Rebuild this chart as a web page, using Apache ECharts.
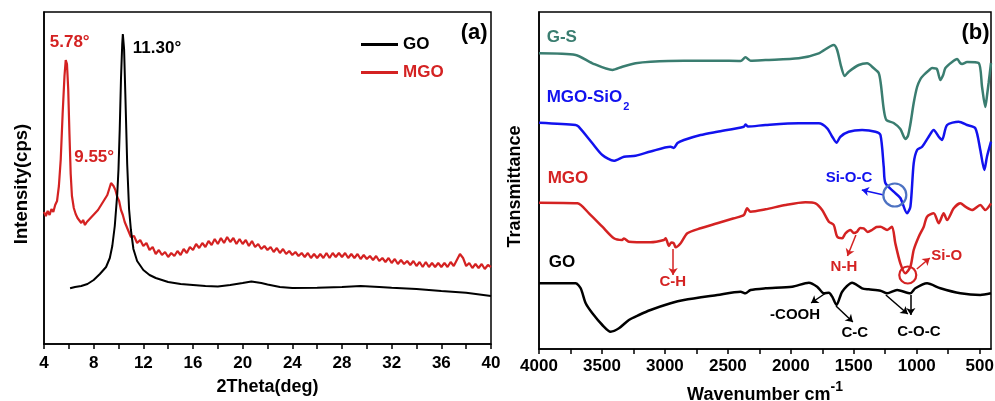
<!DOCTYPE html>
<html><head><meta charset="utf-8">
<script src="https://cdn.jsdelivr.net/npm/echarts@6/dist/echarts.min.js"></script>
<style>html,body{margin:0;padding:0;background:#fff}#c{width:995px;height:401px}</style>
</head><body><div id="c"></div>
<script>
// ---------- Panel (a) XRD ----------
const xrdTicks = [4, 8, 12, 16, 20, 24, 28, 32, 36, 40];
const goTheta = [6.1, 6.5, 7, 7.5, 8, 8.5, 9, 9.3, 9.5, 9.7, 9.9, 10.0, 10.1, 10.2, 10.3, 10.35, 10.45, 10.55, 10.7, 10.85, 11.0, 11.2, 11.5, 12, 12.5, 13, 14, 15, 16, 17, 18, 19, 20, 20.7, 21.5, 22, 23, 24, 26, 28, 29.5, 31, 32, 34, 36, 38, 40];
const goIntensity = [55.7, 57, 58, 60, 64, 70, 77, 86, 98, 118, 150, 175, 215, 265, 300, 310, 295, 250, 180, 135, 114, 95, 83, 74, 69, 66, 62, 60, 59, 58, 57.5, 59, 61, 62.5, 61, 59.5, 57, 56, 56.3, 57, 58, 57, 56.3, 55, 53, 51.3, 48];
const mgoTheta = [4.0, 4.15, 4.3, 4.45, 4.6, 4.75, 4.9, 5.05, 5.2, 5.35, 5.5, 5.65, 5.75, 5.85, 5.95, 6.05, 6.15, 6.25, 6.4, 6.55, 6.7, 6.85, 7.0, 7.15, 7.3, 7.45, 7.6, 7.75, 7.9, 8.05, 8.2, 8.35, 8.5, 8.65, 8.8, 8.95, 9.1, 9.25, 9.4, 9.5, 9.6, 9.75, 9.9, 10.05, 10.2, 10.35, 10.5, 10.6, 10.8, 11.0,
  11.25, 11.5, 11.75, 12.0, 12.25, 12.5, 12.75, 13.0, 13.25, 13.5, 13.75, 14.0, 14.25, 14.5, 14.75, 15.0, 15.25, 15.5, 15.75, 16.0, 16.25, 16.5, 16.75, 17.0, 17.25, 17.5, 17.75, 18.0, 18.25, 18.5, 18.75, 19.0, 19.25, 19.5, 19.75, 20.0, 20.25, 20.5, 20.75, 21.0, 21.25, 21.5, 21.75, 22.0, 22.25, 22.5, 22.75, 23.0, 23.25, 23.5, 23.75, 24.0, 24.25, 24.5, 24.75, 25.0, 25.25, 25.5, 25.75, 26.0, 26.25, 26.5, 26.75, 27.0, 27.25, 27.5, 27.75, 28.0, 28.25, 28.5, 28.75, 29.0, 29.25, 29.5, 29.75, 30.0, 30.25, 30.5, 30.75, 31.0, 31.25, 31.5, 31.75, 32.0, 32.25, 32.5, 32.75, 33.0, 33.25, 33.5, 33.75, 34.0, 34.25, 34.5, 34.75, 35.0, 35.25, 35.5, 35.75, 36.0, 36.25, 36.5, 36.75, 37.0, 37.25, 37.5, 37.6, 37.75, 38.0, 38.25, 38.5, 38.75, 39.0, 39.25, 39.5, 39.75, 40.0];
const mgoIntensity = [132, 128, 133, 129, 135, 132, 139, 143, 158, 185, 230, 268, 284, 280, 255, 210, 170, 148, 136, 130, 126, 124, 121, 124, 119, 122, 121, 126, 124, 130, 128, 134, 133, 140, 139, 146, 149, 155, 161, 163, 158, 154, 147, 143, 134, 129, 122, 119, 113, 107,
  108, 101, 104, 98, 101, 94, 97, 90, 94, 89, 92, 87, 91, 88, 93, 89, 95, 91, 97, 94, 100, 96, 101, 97, 103, 99, 105, 100, 106, 101, 107, 102, 106, 100, 105, 100, 104, 98, 103, 97, 100, 95, 98, 94, 97, 92, 96, 91, 95, 90, 93, 89, 92, 88, 91, 87, 91, 86, 90, 86, 90, 86, 91, 86, 91, 87, 91, 87, 91, 86, 90, 86, 90, 85, 89, 85, 88, 84, 88, 83, 86, 82, 86, 81, 85, 80, 84, 80, 83, 79, 83, 78, 82, 77, 82, 77, 81, 77, 81, 77, 81, 77, 82, 78, 84, 90, 92, 86, 78, 81, 76, 80, 76, 80, 75, 79, 77];

// ---------- Panel (b) FTIR ----------
const ftirLabelTicks = [4000, 3500, 3000, 2500, 2000, 1500, 1000, 500];
const ftirAllTicks = [4000, 3750, 3500, 3250, 3000, 2750, 2500, 2250, 2000, 1750, 1500, 1250, 1000, 750, 500];
const gsWave = [4000, 3709, 3576, 3417, 3338, 3233, 3114, 2849, 2584, 2399, 2360, 2320, 2201, 1937, 1778, 1659, 1632, 1600, 1572, 1540, 1460, 1394, 1341, 1302, 1285, 1262, 1241, 1183, 1130, 1090, 1070, 1050, 1024, 997, 970, 944, 900, 878, 840, 812, 790, 772, 719, 679, 655, 640, 600, 508, 481, 455, 440, 429, 410];
const gsT = [295.7, 294, 285.7, 279, 282.3, 285.7, 287.3, 288.3, 288.3, 288, 291.7, 288.3, 289, 290.7, 295.7, 304, 299, 282.3, 273, 277.3, 284, 285.7, 280.7, 276, 265, 240, 229, 226, 220, 210, 213, 225, 246, 262, 270, 274, 279, 281, 280, 269, 274, 281, 287, 290, 286, 285, 287, 286, 262, 242, 255, 266, 286];
const msWave = [4000, 3709, 3685, 3576, 3497, 3405, 3325, 3233, 3114, 2955, 2929, 2900, 2849, 2717, 2584, 2373, 2360, 2340, 2201, 1937, 1778, 1711, 1671, 1637, 1606, 1540, 1434, 1328, 1288, 1262, 1249, 1183, 1130, 1077, 1050, 1024, 997, 957, 905, 865, 825, 799, 759, 667, 600, 534, 495, 463, 442, 410];
const msT = [226.3, 224, 222.3, 205.7, 194, 188.3, 192.3, 193.3, 197.5, 202.3, 201, 206, 209, 214, 217.3, 222.3, 224.5, 222.5, 224, 225.7, 225.7, 220.7, 212.3, 206.3, 212.3, 217.3, 219, 217.3, 214, 182.3, 166, 157.3, 151, 135.7, 142.3, 185.7, 199, 202.3, 212.3, 219, 212.3, 209, 224, 227.3, 224, 220.7, 199, 179, 192.3, 207.3];
const mgoWave = [4000, 3695, 3603, 3497, 3405, 3340, 3325, 3286, 3114, 3008, 2994, 2968, 2950, 2929, 2915, 2875, 2822, 2717, 2584, 2452, 2373, 2347, 2320, 2201, 2042, 1884, 1804, 1751, 1698, 1659, 1632, 1592, 1566, 1526, 1500, 1474, 1450, 1421, 1390, 1355, 1320, 1288, 1235, 1196, 1170, 1130, 1090, 1050, 1024, 984, 944, 918, 865, 825, 786, 759, 706, 653, 614, 561, 495, 455, 410];
const mgoT = [146.3, 145.7, 135.7, 122.3, 110.7, 109, 110.5, 107.3, 106.7, 109, 110.7, 103, 106.5, 105.7, 101.7, 105.7, 115.7, 120.7, 125.7, 130.7, 134, 140.7, 137.3, 139.7, 144, 146.7, 145.7, 139, 127.3, 124, 112.3, 110.7, 115.7, 119, 116, 117.3, 121, 120.7, 117, 119, 122, 122.3, 119, 122.3, 105.7, 85.7, 75.7, 82.3, 99, 112.3, 122.3, 132.3, 135.7, 125.7, 135.7, 129, 140.7, 145.7, 142.3, 139, 144, 139, 145.7];
const goWave = [4000, 3709, 3669, 3629, 3576, 3497, 3431, 3365, 3286, 3206, 3114, 2955, 2849, 2584, 2399, 2360, 2320, 2201, 1989, 1857, 1791, 1738, 1698, 1671, 1637, 1592, 1513, 1434, 1381, 1288, 1235, 1156, 1050, 1011, 918, 812, 653, 495, 410];
const goT = [65.7, 65.7, 60.7, 45.7, 35.7, 24, 17.3, 20.7, 29, 34, 39, 45.7, 49, 54, 57.3, 55.7, 59, 60.7, 62.3, 66.3, 62.3, 55.7, 56.3, 52.3, 44, 57.3, 66.3, 60.7, 59.7, 58.3, 55.7, 59, 55.7, 60.7, 65.7, 60.7, 55.7, 54, 55.7];

const RED = '#d42222', BLUE = '#1212ee', TEAL = '#3a7d70', CBLUE = '#4d72c2';
const F = "'Liberation Sans', Arial, sans-serif";
const zip = (a, b) => a.map((v, i) => [v, b[i]]);
const tstyle = {color: '#000', fontSize: 17, fontWeight: 'bold', fontFamily: F};
const title = {color: '#000', fontSize: 18, fontWeight: 'bold', fontFamily: F};
const plain = v => String(v);

const chart = echarts.init(document.getElementById('c'));
const arrow = (color, pairs) => ({
  silent: true, symbol: ['none', 'arrow'], symbolSize: 7,
  lineStyle: {color: color, width: 1.5, type: 'solid'}, label: {show: false},
  emphasis: {disabled: true},
  data: pairs.map(p => [{coord: p[0]}, {coord: p[1]}])
});
const ring = (color, size, c) => ({
  silent: true, symbol: 'circle', symbolSize: size,
  itemStyle: {color: 'rgba(0,0,0,0)', borderColor: color, borderWidth: 2.2},
  label: {show: false}, data: [{coord: c}]
});

chart.setOption({
  backgroundColor: '#fff',
  animation: false,
  grid: [
    {left: 44, top: 12, width: 447, height: 332, show: true, borderColor: '#000', borderWidth: 1.5, backgroundColor: 'transparent', containLabel: false, outerBoundsMode: 'none'},
    {left: 539, top: 12, width: 452, height: 337, show: true, borderColor: '#000', borderWidth: 1.5, backgroundColor: 'transparent', containLabel: false, outerBoundsMode: 'none'}
  ],
  legend: {
    left: 356, top: 31, orient: 'vertical', icon: 'rect', itemWidth: 37, itemHeight: 3, itemGap: 11,
    textStyle: {fontSize: 17, fontWeight: 'bold', fontFamily: F},
    data: [{name: 'GO', textStyle: {color: '#000'}}, {name: 'MGO', textStyle: {color: RED}}]
  },
  xAxis: [
    {gridIndex: 0, type: 'value', min: 4, max: 40, interval: 4,
     axisLine: {lineStyle: {color: '#000', width: 1.5}},
     axisTick: {length: 5, lineStyle: {color: '#000', width: 1.5}},
     minorTick: {show: true, splitNumber: 2, length: 5, lineStyle: {color: '#000', width: 1.5}},
     splitLine: {show: false}, minorSplitLine: {show: false},
     axisLabel: Object.assign({margin: 11, customValues: xrdTicks, formatter: plain}, tstyle),
     name: '2Theta(deg)', nameLocation: 'middle', nameGap: 34, nameTextStyle: title},
    {gridIndex: 1, type: 'value', min: 410, max: 4000, inverse: true,
     axisLine: {lineStyle: {color: '#000', width: 1.5}},
     axisTick: {length: 5, customValues: ftirAllTicks, lineStyle: {color: '#000', width: 1.5}},
     splitLine: {show: false},
     axisLabel: Object.assign({margin: 9, customValues: ftirLabelTicks, formatter: plain}, tstyle),
     name: '{a|Wavenumber cm}{s|-1}', nameLocation: 'middle', nameGap: 27,
     nameTextStyle: {rich: {
       a: {fontSize: 18, fontWeight: 'bold', fontFamily: F, color: '#000', lineHeight: 24, verticalAlign: 'bottom'},
       s: {fontSize: 14, fontWeight: 'bold', fontFamily: F, color: '#000', lineHeight: 14, verticalAlign: 'top'}}}}
  ],
  yAxis: [
    {gridIndex: 0, type: 'value', min: 0, max: 332, axisLine: {show: true, lineStyle: {color: '#000', width: 1.5}},
     axisTick: {show: false}, axisLabel: {show: false}, splitLine: {show: false},
     name: 'Intensity(cps)', nameLocation: 'middle', nameGap: 13,
     nameTextStyle: Object.assign({fontSize: 18.5, padding: [0, 12, 0, 0]}, {color: '#000', fontWeight: 'bold', fontFamily: F})},
    {gridIndex: 1, type: 'value', min: 0, max: 337, axisLine: {show: true, lineStyle: {color: '#000', width: 1.5}},
     axisTick: {show: false}, axisLabel: {show: false}, splitLine: {show: false},
     name: 'Transmittance', nameLocation: 'middle', nameGap: 15,
     nameTextStyle: Object.assign({fontSize: 18, padding: [0, 12, 0, 0]}, {color: '#000', fontWeight: 'bold', fontFamily: F})}
  ],
  series: [
    {name: 'GO', type: 'line', xAxisIndex: 0, yAxisIndex: 0, showSymbol: false, color: '#000',
     lineStyle: {color: '#000', width: 2}, data: zip(goTheta, goIntensity), z: 3},
    {name: 'MGO', type: 'line', xAxisIndex: 0, yAxisIndex: 0, showSymbol: false, color: RED,
     lineStyle: {color: RED, width: 2.2}, data: zip(mgoTheta, mgoIntensity), z: 2},
    {name: 'G-S (FTIR)', type: 'line', xAxisIndex: 1, yAxisIndex: 1, showSymbol: false, smooth: 0.25, color: TEAL,
     lineStyle: {color: TEAL, width: 2.5}, data: zip(gsWave, gsT)},
    {name: 'MGO-SiO2 (FTIR)', type: 'line', xAxisIndex: 1, yAxisIndex: 1, showSymbol: false, smooth: 0.25, color: BLUE,
     lineStyle: {color: BLUE, width: 2.5}, data: zip(msWave, msT),
     markPoint: ring(CBLUE, 23, [1174, 154]),
     markLine: arrow(BLUE, [[[1261, 154], [1436, 159]]])},
    {name: 'MGO (FTIR)', type: 'line', xAxisIndex: 1, yAxisIndex: 1, showSymbol: false, smooth: 0.25, color: RED,
     lineStyle: {color: RED, width: 2.5}, data: zip(mgoWave, mgoT),
     markPoint: ring(RED, 17, [1071, 74]),
     markLine: arrow(RED, [[[2935, 100], [2935, 74]], [[1483, 114], [1550, 93]], [[999, 80], [896, 91]]])},
    {name: 'GO (FTIR)', type: 'line', xAxisIndex: 1, yAxisIndex: 1, showSymbol: false, smooth: 0.25, color: '#000',
     lineStyle: {color: '#000', width: 2.5}, data: zip(goWave, goT),
     markLine: arrow('#000', [[[1722, 56], [1839, 46]], [[1641, 43], [1507, 27]], [[1245, 54], [1071, 35]], [[1047, 54], [1047, 34]]])}
  ]
});

// text annotations positioned through the axes' own scales
const notes = [
  {g: 0, x: 6.07, y: 302, t: '5.78°', c: RED, a: 'center'},
  {g: 0, x: 11.15, y: 296, t: '11.30°', c: '#000', a: 'left'},
  {g: 0, x: 8.04, y: 187, t: '9.55°', c: RED, a: 'center'},
  {g: 0, x: 39.72, y: 311, t: '(a)', c: '#000', a: 'right', s: 22},
  {g: 1, x: 421, y: 316, t: '(b)', c: '#000', a: 'right', s: 22},
  {g: 1, x: 3939, y: 312, t: 'G-S', c: TEAL, a: 'left'},
  {g: 1, x: 3939, y: 250, t: '{m|MGO-SiO}{s|2}', c: BLUE, a: 'left', rich: true},
  {g: 1, x: 3931, y: 171, t: 'MGO', c: RED, a: 'left'},
  {g: 1, x: 3923, y: 87, t: 'GO', c: '#000', a: 'left'},
  {g: 1, x: 2937, y: 67, t: 'C-H', c: RED, a: 'center', s: 15},
  {g: 1, x: 1578, y: 82, t: 'N-H', c: RED, a: 'center', s: 15},
  {g: 1, x: 762, y: 93, t: 'Si-O', c: RED, a: 'center', s: 15},
  {g: 1, x: 1538, y: 171, t: 'Si-O-C', c: BLUE, a: 'center', s: 15},
  {g: 1, x: 1966, y: 34, t: '-COOH', c: '#000', a: 'center', s: 15},
  {g: 1, x: 1492, y: 16, t: 'C-C', c: '#000', a: 'center', s: 15},
  {g: 1, x: 983, y: 17, t: 'C-O-C', c: '#000', a: 'center', s: 15}
];
const graphics = notes.map(n => {
  const p = chart.convertToPixel({gridIndex: n.g}, [n.x, n.y]);
  const style = {text: n.t, fill: n.c, font: 'bold ' + (n.s || 17) + 'px ' + F, textAlign: n.a, textVerticalAlign: 'middle'};
  if (n.rich) {
    style.rich = {
      m: {fontSize: 17, fontWeight: 'bold', fontFamily: F, fill: n.c, lineHeight: 20, verticalAlign: 'top'},
      s: {fontSize: 11, fontWeight: 'bold', fontFamily: F, fill: n.c, lineHeight: 11, padding: [12, 0, 0, 1], verticalAlign: 'top'}
    };
  }
  return {type: 'text', x: p[0], y: p[1], style: style, z: 10, silent: true};
});
chart.setOption({graphic: graphics});
</script>
</body></html>
